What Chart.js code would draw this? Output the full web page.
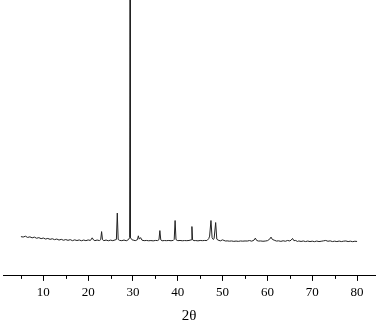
<!DOCTYPE html>
<html>
<head>
<meta charset="utf-8">
<script src="https://cdn.jsdelivr.net/npm/chart.js@4/dist/chart.umd.min.js"></script>
<style>
html,body{margin:0;padding:0;background:#fff;}
#wrap{width:377px;height:321px;position:relative;}
</style>
</head>
<body>
<div id="wrap"><canvas id="c"></canvas></div>
<script>
const twoTheta = [
5.0,5.5,6.0,6.5,7.0,7.5,8.0,8.5,9.0,9.5,10.0,10.5,11.0,11.5,12.0,12.5,13.0,13.5,14.0,14.5,
15.0,15.5,16.0,16.5,17.0,17.5,18.0,18.5,19.0,19.5,20.0,20.5,20.9,21.2,21.5,22.0,22.5,22.8,23.0,23.2,
23.5,24.0,24.5,25.0,25.5,26.0,26.3,26.5,26.7,27.0,27.5,28.0,28.5,29.0,29.25,29.35,29.45,29.8,30.2,30.5,
31.0,31.2,31.4,31.7,32.0,32.5,33.0,33.5,34.0,34.5,35.0,35.5,35.8,36.0,36.2,36.5,37.0,37.5,38.0,38.5,
39.0,39.2,39.4,39.6,40.0,40.5,41.0,41.5,42.0,42.5,43.0,43.15,43.3,43.6,44.0,44.5,45.0,45.5,46.0,46.5,
46.9,47.1,47.4,47.65,47.9,48.1,48.45,48.7,49.0,49.5,50.0,50.3,50.7,51.0,51.5,52.0,52.5,53.0,53.5,54.0,
54.5,55.0,55.5,56.0,56.5,57.0,57.3,57.6,58.0,58.5,59.0,59.5,60.0,60.5,60.8,61.1,61.5,62.0,62.5,63.0,
63.5,64.0,64.5,65.0,65.3,65.6,65.9,66.3,66.7,67.0,67.5,68.0,68.5,69.0,69.5,70.0,70.5,71.0,71.5,72.0,
72.5,73.0,73.5,74.0,74.5,75.0,75.5,76.0,76.5,77.0,77.5,78.0,78.5,79.0,79.5,80.0
];
const intensity = [
390,386,394,382,388,378,385,374,380,370,376,366,372,363,369,360,366,356,363,354,
361,353,360,350,358,351,357,349,356,350,357,352,378,357,350,356,351,360,440,360,
350,356,349,355,350,357,362,624,362,353,350,356,349,360,380,2740,378,358,354,350,
360,398,365,380,355,350,352,349,351,348,352,351,360,450,358,349,351,350,352,349,
353,362,550,360,350,352,349,351,350,352,358,490,358,350,351,348,352,350,352,351,
370,395,550,380,362,370,530,365,355,348,358,352,346,348,345,347,343,346,343,347,
345,347,346,351,345,355,375,352,346,347,344,346,350,365,385,362,355,346,348,343,
349,344,352,347,356,372,350,352,342,347,342,347,341,346,341,345,340,346,341,344,
348,352,344,348,341,345,341,346,341,345,347,341,345,340,344,342
];
const majorTicks = [10,20,30,40,50,60,70,80];
const minorTicks = [5,15,25,35,45,55,65,75];
const xTitle = '2θ';

const points = twoTheta.map((x,i)=>({x:x,y:intensity[i]}));

const minorTickPlugin = {
  id:'minorTicks',
  afterDraw(chart){
    const s = chart.scales.x, ctx = chart.ctx;
    ctx.save();
    ctx.strokeStyle = '#000';
    ctx.lineWidth = 1;
    ctx.beginPath();
    minorTicks.forEach(v=>{
      const px = Math.round(s.getPixelForValue(v))+0.5;
      ctx.moveTo(px, s.top);
      ctx.lineTo(px, s.top+3);
    });
    ctx.stroke();
    ctx.restore();
  }
};

new Chart(document.getElementById('c'), {
  type:'line',
  data:{datasets:[{data:points,borderColor:'#222',borderWidth:1,pointRadius:0,tension:0,fill:false}]},
  options:{
    responsive:true,maintainAspectRatio:false,animation:false,
    layout:{padding:{left:3,right:2,top:0,bottom:-3}},
    plugins:{legend:{display:false},tooltip:{enabled:false}},
    scales:{
      x:{type:'linear',min:1,max:84,
        afterBuildTicks(scale){scale.ticks = majorTicks.map(v=>({value:v}));},
        ticks:{color:'#000',font:{family:'Liberation Serif',size:13},padding:4,maxRotation:0,autoSkip:false},
        grid:{display:true,drawOnChartArea:false,tickLength:5,color:'#000'},
        border:{display:true,color:'#000',width:1},
        title:{display:true,text:xTitle,color:'#000',font:{family:'Liberation Serif',size:15,lineHeight:1.1},padding:{top:3,bottom:0}}
      },
      y:{display:false,min:0,max:2740}
    }
  },
  plugins:[minorTickPlugin]
});
</script>
</body>
</html>
